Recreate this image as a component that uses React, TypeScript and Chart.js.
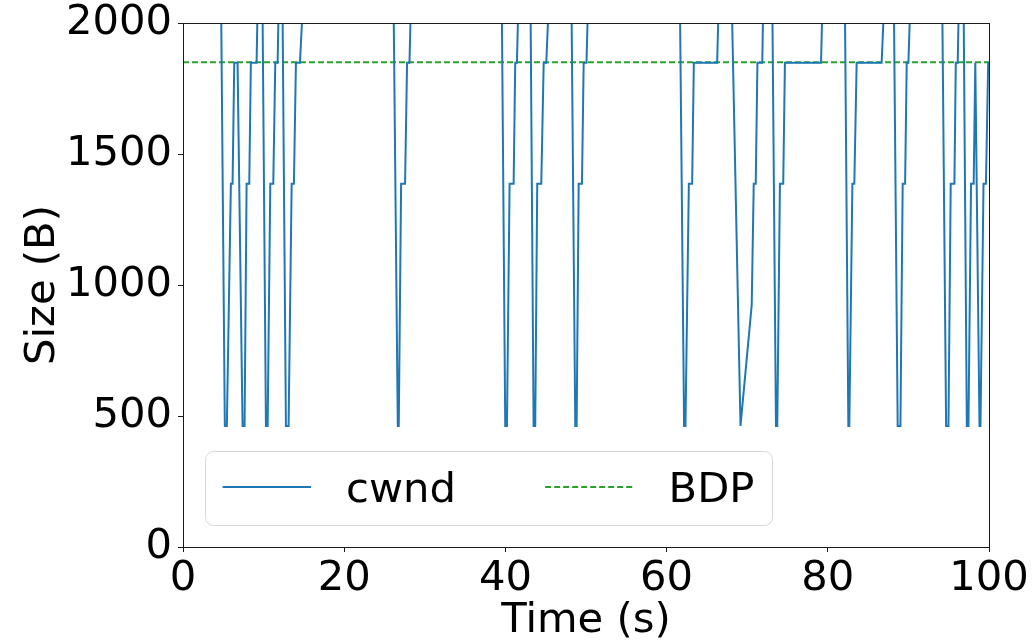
import React, { useEffect, useRef } from 'react';
import { Chart, registerables } from 'chart.js';

Chart.register(...registerables);

// values above the y-axis limit (clipped by the plot area)
const HIGH = 2310;

const cwndTime = [
  0, 4.66, 5.19, 5.44, 5.94, 6.15, 6.36, 6.77, 7.39, 7.64, 7.89, 8.22, 8.42, 9.13, 9.40,
  9.80, 10.29, 10.50, 10.83, 11.20, 11.45, 11.74, 12.01,
  12.28, 12.77, 13.10, 13.48, 13.76, 14.01, 14.51, 15.26,
  26.05, 26.65, 26.77, 27.06, 27.55, 27.80, 28.10, 28.46,
  39.49, 39.98, 40.19, 40.52, 41.02, 41.22, 41.43, 41.79,
  43.06, 43.50, 43.70, 43.95, 44.45, 44.75, 45.07, 45.70,
  48.13, 48.67, 48.84, 49.09, 49.50, 49.71, 50.06, 50.45,
  61.58, 62.17, 62.34, 62.76, 63.17, 63.38, 66.27, 66.66,
  67.93, 69.17, 70.56, 70.81, 71.06, 71.27, 71.87, 72.11,
  73.05, 73.57, 73.73, 74.06, 74.47, 74.68, 79.16, 79.52,
  82.06, 82.55, 82.67, 83.05, 83.29, 83.58, 86.68, 87.31,
  88.13, 88.67, 89.01, 89.29, 89.59, 89.79, 90.00, 90.48,
  94.13, 94.68, 94.97, 95.25, 95.71, 95.88, 96.12, 96.39,
  96.79, 97.25, 97.45, 97.77, 98.10, 98.30, 98.36, 98.82, 98.94, 99.32, 99.62, 99.90, 100.3,
];

const cwndSize = [
  HIGH, HIGH, 462, 462, 1386, 1386, 1848, 1848, 462, 462, 1386, 1386, 1848, 1848, HIGH,
  HIGH, 462, 462, 1386, 1386, 1848, 1848, HIGH,
  HIGH, 462, 462, 1386, 1386, 1848, 1848, HIGH,
  HIGH, 462, 462, 1386, 1386, 1848, 1848, HIGH,
  HIGH, 462, 462, 1386, 1386, 1848, 1848, HIGH,
  HIGH, 462, 462, 1386, 1386, 1848, 1848, HIGH,
  HIGH, 462, 462, 1386, 1386, 1848, 1848, HIGH,
  HIGH, 462, 462, 1386, 1386, 1848, 1848, HIGH,
  HIGH, 462, 924, 1386, 1386, 1848, 1848, HIGH,
  HIGH, 462, 462, 1386, 1386, 1848, 1848, HIGH,
  HIGH, 462, 462, 1386, 1386, 1848, 1848, HIGH,
  HIGH, 462, 462, 1386, 1386, 1848, 1848, HIGH,
  HIGH, 462, 462, 1386, 1386, 1848, 1848, HIGH,
  HIGH, 462, 462, 1386, 1386, 1848, 1848, 462, 462, 1386, 1386, 1848, 1848,
];

const bdpTime = [0, 100];
const bdpSize = [1850, 1850];

const xTicks = [0, 20, 40, 60, 80, 100];
const yTicks = [0, 500, 1000, 1500, 2000];

const seriesLabels = ['cwnd', 'BDP'];
const FONT = 'DejaVu Sans';
const FS = 41.7;

const framePlugin = {
  id: 'frameAndLegend',
  afterDatasetsDraw(chart: any) {
    const { ctx, chartArea } = chart;
    const { left, top, right, bottom } = chartArea;
    ctx.save();
    // axes frame
    ctx.strokeStyle = '#1a1a1a';
    ctx.lineWidth = 1;
    ctx.setLineDash([]);
    ctx.strokeRect(Math.round(left) + 0.5, Math.round(top) + 0.5, Math.round(right - left), Math.round(bottom - top));

    // legend (lower left)
    ctx.font = `${FS}px "${FONT}"`;
    const pad = 0.42 * FS;
    const handleLen = 2.12 * FS;
    const handleTextPad = 0.84 * FS;
    const colSpace = 2.14 * FS;
    const ds = chart.data.datasets;
    const widths = ds.map((d: any) => ctx.measureText(d.label).width);
    let boxW = pad * 2;
    ds.forEach((d: any, i: number) => {
      boxW += handleLen + handleTextPad + widths[i];
      if (i < ds.length - 1) boxW += colSpace;
    });
    const boxH = 74;
    const bx = left + 0.53 * FS;
    const by = bottom - 0.53 * FS - boxH;
    ctx.beginPath();
    ctx.roundRect(Math.round(bx) + 0.5, Math.round(by) + 0.5, Math.round(boxW), boxH, 8);
    ctx.fillStyle = 'rgba(255,255,255,0.8)';
    ctx.fill();
    ctx.strokeStyle = '#d6d6d6';
    ctx.lineWidth = 1;
    ctx.stroke();
    const cy = by + boxH / 2 - 1;
    let x = bx + pad;
    ds.forEach((d: any, i: number) => {
      ctx.beginPath();
      ctx.strokeStyle = d.borderColor;
      ctx.lineWidth = d.borderWidth;
      ctx.setLineDash(d.borderDash || []);
      ctx.moveTo(x, cy);
      ctx.lineTo(x + handleLen, cy);
      ctx.stroke();
      ctx.setLineDash([]);
      x += handleLen + handleTextPad;
      ctx.fillStyle = '#000';
      ctx.textBaseline = 'alphabetic';
      ctx.textAlign = 'left';
      ctx.fillText(d.label, x, cy + 0.37 * FS);
      x += widths[i] + colSpace;
    });
    ctx.restore();
  },
};

export default function App() {
  const ref = useRef<HTMLCanvasElement | null>(null);
  useEffect(() => {
    if (!ref.current) return;
    const chart = new Chart(ref.current, {
      type: 'line',
      data: {
        datasets: [
          {
            label: seriesLabels[0],
            data: cwndTime.map((t, i) => ({ x: t, y: cwndSize[i] })),
            borderColor: '#1f77b4',
            borderWidth: 2,
            pointRadius: 0,
            tension: 0,
            fill: false,
          },
          {
            label: seriesLabels[1],
            data: bdpTime.map((t, i) => ({ x: t, y: bdpSize[i] })),
            borderColor: '#2ca02c',
            borderWidth: 2,
            borderDash: [6, 3],
            pointRadius: 0,
            tension: 0,
            fill: false,
          },
        ],
      },
      options: {
        animation: false,
        responsive: false,
        devicePixelRatio: 1,
        layout: { padding: { left: 0, top: 23, right: 44, bottom: 0 } },
        plugins: { legend: { display: false }, tooltip: { enabled: false } },
        scales: {
          x: {
            type: 'linear',
            min: 0,
            max: 100,
            afterBuildTicks: (s: any) => { s.ticks = xTicks.map((v) => ({ value: v })); },
            afterFit: (s: any) => { s.height = 96; },
            grid: { drawOnChartArea: false, drawTicks: true, tickLength: 5, color: '#1a1a1a', lineWidth: 1 },
            border: { display: false },
            ticks: { color: '#000', font: { family: FONT, size: FS, lineHeight: 1.2 }, padding: 2, maxRotation: 0, autoSkip: false, callback: (v: any) => String(v) },
            title: { display: true, text: 'Time (s)', color: '#000', font: { family: FONT, size: FS, lineHeight: 1.0 }, padding: { top: 0, bottom: 1 } },
          },
          y: {
            type: 'linear',
            min: 0,
            max: 2000,
            afterBuildTicks: (s: any) => { s.ticks = yTicks.map((v) => ({ value: v })); },
            afterFit: (s: any) => { s.width = 183; },
            grid: { drawOnChartArea: false, drawTicks: true, tickLength: 5, color: '#1a1a1a', lineWidth: 1 },
            border: { display: false },
            ticks: { color: '#000', font: { family: FONT, size: FS, lineHeight: 0.8 }, padding: 6, autoSkip: false, callback: (v: any) => String(v) },
            title: { display: true, text: 'Size (B)', color: '#000', font: { family: FONT, size: FS, lineHeight: 1.0 }, padding: { top: 22, bottom: 0 } },
          },
        },
      },
      plugins: [framePlugin],
    });
    return () => chart.destroy();
  }, []);
  return (
    <div style={{ position: 'absolute', left: 0, top: 0, width: 1033, height: 643, background: '#fff' }}>
      <canvas ref={ref} width={1033} height={643} />
    </div>
  );
}
